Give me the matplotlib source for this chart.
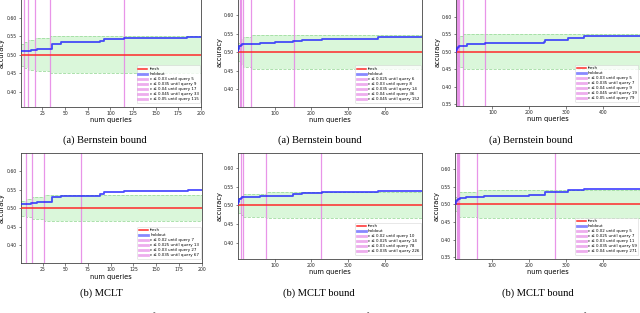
import matplotlib
matplotlib.use('Agg')
import matplotlib.pyplot as plt

# ---------------- data ----------------
fresh_acc = 0.5

# holdout accuracy change points (query, accuracy) -- one per column
hold_q_c1 = [1, 12, 19, 30, 35, 45, 88, 93, 115, 185, 200]
hold_a_c1 = [0.5118, 0.5136, 0.5155, 0.5170, 0.5290, 0.5336, 0.5380, 0.5430, 0.5455, 0.5490, 0.5490]

hold_q_c2 = [1, 2, 3, 5, 8, 12, 60, 100, 150, 175, 200, 230, 380, 500]
hold_a_c2 = [0.503, 0.508, 0.512, 0.516, 0.520, 0.523, 0.525, 0.526, 0.530, 0.532, 0.534, 0.536, 0.540, 0.540]

hold_q_c3 = [1, 2, 4, 6, 9, 15, 30, 80, 150, 200, 240, 243, 305, 350, 500]
hold_a_c3 = [0.500, 0.505, 0.510, 0.513, 0.515, 0.517, 0.521, 0.524, 0.525, 0.526, 0.528, 0.534, 0.540, 0.545, 0.545]

# epsilon bounds: value of epsilon and the query until which it holds
eps_p1 = [0.03, 0.035, 0.04, 0.045, 0.05]
until_p1 = [5, 9, 17, 33, 115]
eps_p2 = [0.025, 0.03, 0.035, 0.04, 0.045]
until_p2 = [6, 8, 14, 36, 152]
eps_p3 = [0.03, 0.035, 0.04, 0.045, 0.05]
until_p3 = [5, 7, 9, 19, 79]
eps_p4 = [0.02, 0.025, 0.03, 0.035]
until_p4 = [7, 13, 27, 67]
eps_p5 = [0.02, 0.025, 0.03, 0.035]
until_p5 = [10, 14, 78, 226]
eps_p6 = [0.02, 0.025, 0.03, 0.035, 0.04]
until_p6 = [5, 7, 11, 59, 271]

eps_labels_p1 = ["0.03", "0.035", "0.04", "0.045", "0.05"]
eps_labels_p2 = ["0.025", "0.03", "0.035", "0.04", "0.045"]
eps_labels_p3 = ["0.03", "0.035", "0.04", "0.045", "0.05"]
eps_labels_p4 = ["0.02", "0.025", "0.03", "0.035"]
eps_labels_p5 = ["0.02", "0.025", "0.03", "0.035"]
eps_labels_p6 = ["0.02", "0.025", "0.03", "0.035", "0.04"]

n_queries = [200, 500, 500]

xticks_c1 = [25, 50, 75, 100, 125, 150, 175, 200]
xticks_c2 = [100, 200, 300, 400]
yticks_a = [0.40, 0.45, 0.50, 0.55, 0.60]
yticks_b = [0.35, 0.40, 0.45, 0.50, 0.55, 0.60]

top_captions = ["(a) Bernstein bound", "(a) Bernstein bound", "(a) Bernstein bound"]
bottom_captions = ["(b) MCLT", "(b) MCLT bound", "(b) MCLT bound"]
fig_captions = ["Fig. 1: No signal. Feature values from",
                "Fig. 2: No signal. Feature values from",
                "Fig. 3: No signal. Feature values from"]

# ---------------- figure ----------------
W, H = 640, 313
fig = plt.figure(figsize=(6.4, 3.13), dpi=100)


def px_axes(x0, x1, ytop, ybot):
    return fig.add_axes([x0 / W, (H - ybot) / H, (x1 - x0) / W, (ybot - ytop) / H])


panels = [
    dict(box=(20.7, 201, -1, 107), hq=hold_q_c1, ha=hold_a_c1, eps=eps_p1, until=until_p1,
         lab=eps_labels_p1, n=n_queries[0], xt=xticks_c1, yl=(0.358, 0.652), yt=yticks_a),
    dict(box=(238, 422, -2, 107), hq=hold_q_c2, ha=hold_a_c2, eps=eps_p2, until=until_p2,
         lab=eps_labels_p2, n=n_queries[1], xt=xticks_c2, yl=(0.352, 0.646), yt=yticks_a),
    dict(box=(456, 639.5, -1, 106), hq=hold_q_c3, ha=hold_a_c3, eps=eps_p3, until=until_p3,
         lab=eps_labels_p3, n=n_queries[2], xt=xticks_c2, yl=(0.345, 0.65), yt=yticks_b),
    dict(box=(20.7, 201.7, 153.3, 263.3), hq=hold_q_c1, ha=hold_a_c1, eps=eps_p4, until=until_p4,
         lab=eps_labels_p4, n=n_queries[0], xt=xticks_c1, yl=(0.351, 0.648), yt=yticks_a),
    dict(box=(238, 422, 153.3, 259), hq=hold_q_c2, ha=hold_a_c2, eps=eps_p5, until=until_p5,
         lab=eps_labels_p5, n=n_queries[1], xt=xticks_c2, yl=(0.356, 0.640), yt=yticks_a),
    dict(box=(455.3, 639.5, 153.3, 259), hq=hold_q_c3, ha=hold_a_c3, eps=eps_p6, until=until_p6,
         lab=eps_labels_p6, n=n_queries[2], xt=xticks_c2, yl=(0.345, 0.645), yt=yticks_b),
]

violet = '#e68ae6'

for p in panels:
    ax = px_axes(*p['box'])
    n = p['n']
    # band of fresh +/- epsilon
    bx = [1] + p['until'][:-1] + [n]
    beps = p['eps'] + [p['eps'][-1]]
    lo = [fresh_acc - e for e in beps]
    hi = [fresh_acc + e for e in beps]
    ax.fill_between(bx, lo, hi, step='post', color='#d6f7d6', alpha=0.9, lw=0, zorder=1)
    ax.plot(bx, lo, drawstyle='steps-post', ls='--', color='#9fdc9f', lw=0.6, zorder=1.5)
    ax.plot(bx, hi, drawstyle='steps-post', ls='--', color='#9fdc9f', lw=0.6, zorder=1.5)

    ax.axhline(fresh_acc, color='#ff2a2a', lw=1.1, label='fresh', zorder=3)
    ax.plot(p['hq'], p['ha'], drawstyle='steps-post', color='#2020ff', alpha=0.8, lw=1.3,
            label='holdout', zorder=4)
    for e_lab, q in zip(p['lab'], p['until']):
        ax.axvline(q, color=violet, lw=0.9, alpha=0.9, zorder=2,
                   label='\u03b5 \u2264 ' + e_lab + ' until query %d' % q)

    ax.set_xlim(1, n)
    ax.set_ylim(*p['yl'])
    ax.set_xticks(p['xt'])
    ax.set_yticks(p['yt'])
    ax.set_yticklabels(['%.2f' % v for v in p['yt']])
    ax.tick_params(labelsize=3.3, length=1.8, width=0.4, pad=1.2, colors='#222222')
    for s in ax.spines.values():
        s.set_linewidth(0.6)
        s.set_color('#444444')
    ax.set_xlabel('num queries', fontsize=4.8, labelpad=0.8)
    ax.set_ylabel('accuracy', fontsize=4.8, labelpad=1.0)

    leg = ax.legend(loc='lower right', fontsize=2.9, handlelength=2.2, labelspacing=0.25,
                    borderpad=0.4, borderaxespad=0.25, bbox_to_anchor=(1.0, 0.03),
                    framealpha=0.8, edgecolor='#cccccc', fancybox=True, handletextpad=0.6)
    leg.get_frame().set_linewidth(0.4)
    lines = leg.get_lines()
    lines[1].set_linewidth(2.0)
    lines[1].set_color('#6b6bff')
    for ln in lines[2:]:
        ln.set_linewidth(2.0)
        ln.set_alpha(0.7)

serif = ['Liberation Serif', 'DejaVu Serif']
top_x = [105, 320, 531]
bot_x = [101, 319, 538]
fig_x = [12, 226, 443]
for i in range(3):
    fig.text(top_x[i] / W, (H - 140) / H, top_captions[i], ha='center', va='center',
             fontsize=7.6, family=serif)
    fig.text(bot_x[i] / W, (H - 293) / H, bottom_captions[i], ha='center', va='center',
             fontsize=7.6, family=serif)
    fig.text(fig_x[i] / W, (H - 317) / H, fig_captions[i], ha='left', va='center',
             fontsize=7.6, family=serif)

fig.savefig('out.png', dpi=100)
